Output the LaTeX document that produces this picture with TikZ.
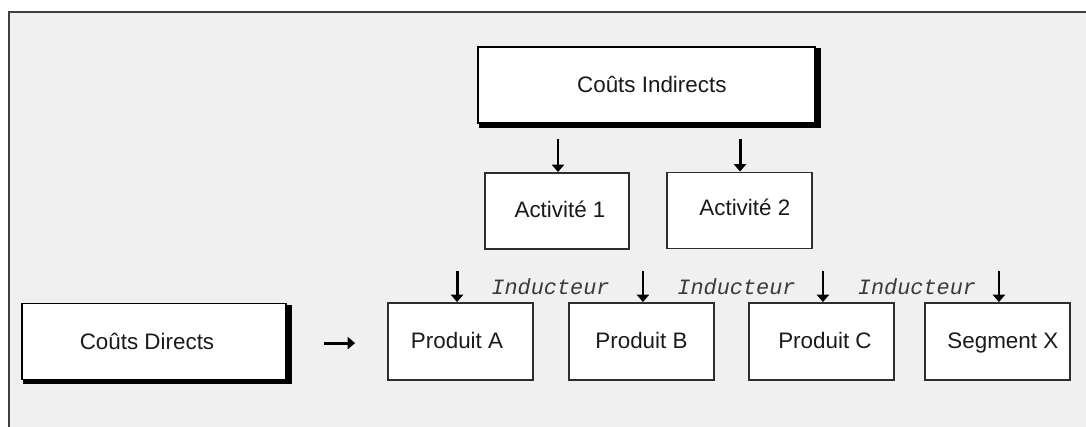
\documentclass[tikz,border=0pt]{standalone}
\usepackage{fontspec}
\setmainfont{Liberation Sans}
\newfontfamily\inducfont{Liberation Mono}
\usetikzlibrary{arrows.meta}
\definecolor{panel}{HTML}{F0F0F0}
\definecolor{frameline}{HTML}{404040}
\definecolor{edge}{HTML}{2E2E2E}
\definecolor{ink}{HTML}{1A1A1A}
\definecolor{inducink}{HTML}{3A3A3A}
\pgfdeclarelayer{panellayer}
\pgfdeclarelayer{shadelayer}
\pgfsetlayers{panellayer,shadelayer,main}

\begin{document}
\begin{tikzpicture}[x=0.75pt,y=-0.75pt,
  box/.style={draw=edge, line width=1.4pt, fill=white, inner sep=0pt,
    minimum width=108.75pt, minimum height=57.75pt},
  heavybox/.style={box, draw=black},
  shade/.style={fill=black},
  txt/.style={font=\fontsize{16.8}{18}\selectfont, text=ink, inner sep=0pt,
    text height=12pt, text depth=0pt},
  induc/.style={font=\inducfont\itshape\fontsize{16.4}{18}\selectfont,
    text=inducink, inner sep=0pt, anchor=base},
  arr/.style={-{Triangle[width=9pt,length=5.5pt]}, line width=2.2pt, black}
]
% page and panel
\useasboundingbox (0,0) rectangle (1086,427);
\clip (0,0) rectangle (1086,427);
\begin{pgfonlayer}{panellayer}
  \fill[white] (0,0) rectangle (1086,427);
  \draw[frameline, line width=1.5pt, fill=panel] (9,12.5) rectangle (1200,600);
\end{pgfonlayer}

% cost pools
\node[heavybox, minimum width=252.75pt, minimum height=57pt,
  label={[txt, xshift=4pt]center:Coûts Indirects}] (ci) at (646.5,85) {};
\node[heavybox, minimum width=198pt, minimum height=57pt,
  label={[txt, xshift=-5.25pt]center:Coûts Directs}] (cd) at (154,341.5) {};

% activities
\node[box, minimum width=108pt, minimum height=57pt,
  label={[txt, xshift=2.25pt, yshift=1pt]center:Activité 1}] (a1) at (557,211) {};
\node[box, minimum height=57pt,
  label={[txt, xshift=4pt, yshift=2.6pt]center:Activité 2}] (a2) at (739.5,210.5) {};

% cost objects
\node[box, label={[txt, xshift=-2.6pt, yshift=1pt]center:Produit A}] (pa) at (460.5,341.5) {};
\node[box, label={[txt, yshift=1pt]center:Produit B}] (pb) at (641.5,341.5) {};
\node[box, label={[txt, xshift=2.6pt, yshift=1pt]center:Produit C}] (pc) at (821.5,341.5) {};
\node[box, label={[txt, xshift=4pt, yshift=1pt]center:Segment X}] (sx) at (997.5,341.5) {};

% heavy shadows behind the two cost pools
\begin{pgfonlayer}{shadelayer}
  \fill[shade] ([xshift=1.5pt, yshift=-3pt]ci.south west) rectangle ([xshift=3.6pt, yshift=-1.5pt]ci.north east);
  \fill[shade] ([xshift=1.5pt, yshift=-2.6pt]cd.south west) rectangle ([xshift=3.6pt, yshift=-1.5pt]cd.north east);
\end{pgfonlayer}

% drivers
\node[induc] (ind1) at (550.5,295) {Inducteur};
\node[induc] (ind2) at (736.5,295) {Inducteur};
\node[induc] (ind3) at (917,295) {Inducteur};

% flows
\draw[arr] ([xshift=0.75pt, yshift=24.75pt]a1.north) -- ([xshift=0.75pt]a1.north);
\draw[arr] ([xshift=0.4pt, yshift=24.75pt]a2.north) -- ([xshift=0.4pt]a2.north);
\draw[arr] ([xshift=-2.6pt, yshift=23.25pt]pa.north) -- ([xshift=-2.6pt]pa.north);
\draw[arr] ([xshift=1.1pt, yshift=23.25pt]pb.north) -- ([xshift=1.1pt]pb.north);
\draw[arr] ([xshift=1.1pt, yshift=23.25pt]pc.north) -- ([xshift=1.1pt]pc.north);
\draw[arr] ([xshift=1.1pt, yshift=23.25pt]sx.north) -- ([xshift=1.1pt]sx.north);
\draw[arr] ([xshift=27.75pt, yshift=-1.2pt]cd.east) -- ([xshift=-24pt, yshift=-1.2pt]pa.west);
\end{tikzpicture}
\end{document}
